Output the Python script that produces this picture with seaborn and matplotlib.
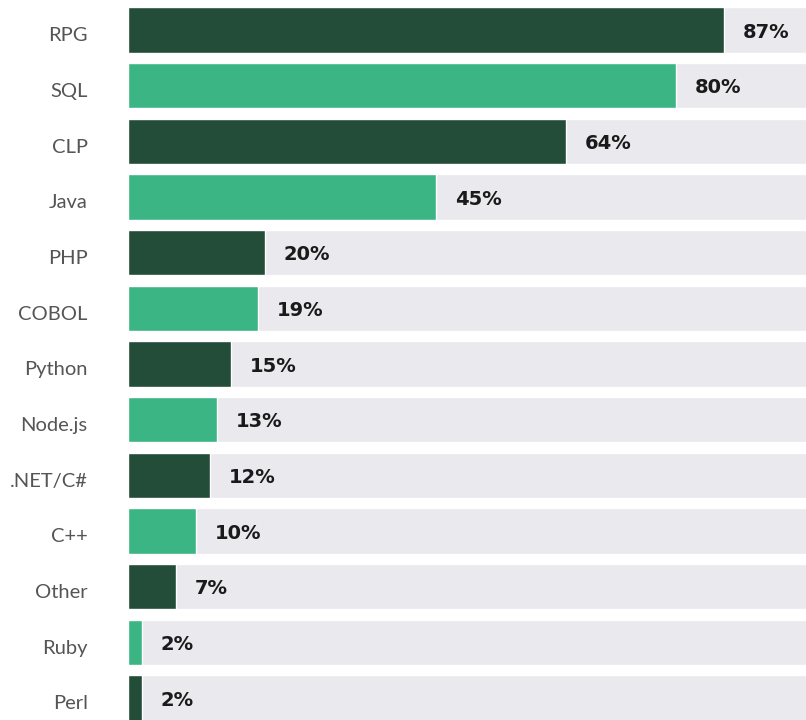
import matplotlib
matplotlib.use("Agg")
import matplotlib.pyplot as plt
import matplotlib.transforms as mtransforms
import pandas as pd
import seaborn as sns

# dados
languages = ["RPG", "SQL", "CLP", "Java", "PHP", "COBOL", "Python",
             "Node.js", ".NET/C#", "C++", "Other", "Ruby", "Perl"]
share = [87, 80, 64, 45, 20, 19, 15, 13, 12, 10, 7, 2, 2]
full_scale = [100] * len(languages)

dark = "#234d38"
light = "#3cb585"
track = "#e9e9ee"

sns.set_theme(style="white")
plt.rcParams['font.family'] = ['Lato', 'DejaVu Sans']

df = pd.DataFrame({"language": languages, "share": share, "full": full_scale})
colors = [dark if i % 2 == 0 else light for i in range(len(languages))]

fig = plt.figure(figsize=(8.06, 7.2), dpi=100)
ax = fig.add_axes([128 / 806, 0, 1 - 128 / 806, 1])

# trilho cinzento por trás de cada barra
sns.barplot(data=df, y="language", x="full", color=track, width=0.81,
            orient="h", ax=ax, saturation=1)
sns.barplot(data=df, y="language", x="share", hue="language", palette=colors,
            width=0.81, orient="h", ax=ax, saturation=1, legend=False)

ax.set_xlim(0, 99)
ax.set_ylim(12.395, -0.539)
ax.set_xlabel("")
ax.set_ylabel("")
ax.set_xticks([])
sns.despine(ax=ax, left=True, bottom=True)
ax.tick_params(axis="y", length=0, pad=29, labelsize=14.5, labelcolor="#555555")

# rótulos um pouco abaixo do centro, como no original
shift = mtransforms.ScaledTranslation(0, -3 / 72, fig.dpi_scale_trans)
for lab in ax.get_yticklabels():
    lab.set_transform(lab.get_transform() + shift)

for i, v in enumerate(share):
    ax.annotate(f"{v}%", (v, i), xytext=(13.5, -1.5), textcoords="offset points",
                ha="left", va="center", fontsize=14, fontweight="semibold",
                family="DejaVu Sans", color="#1a1a1a")

fig.savefig("out.png", dpi=100)
